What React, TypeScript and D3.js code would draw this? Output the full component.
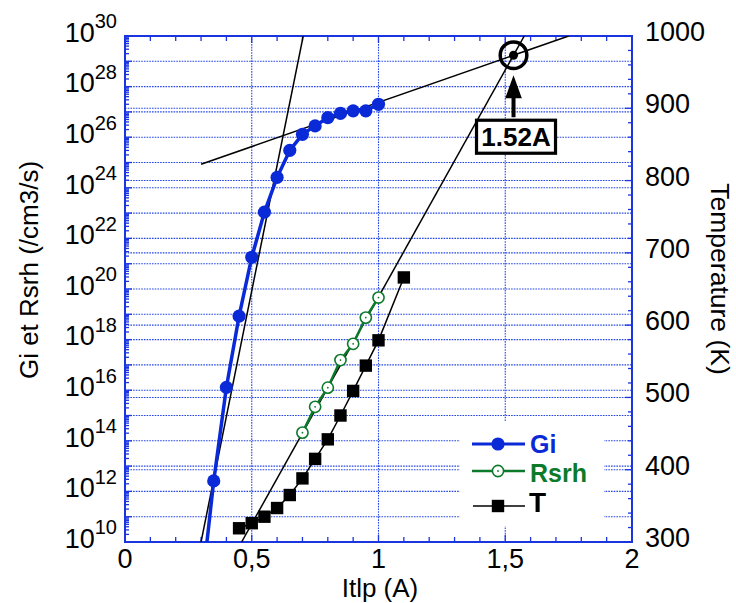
import React from "react";
import * as d3 from "d3";

// ---- data ----
const giX = [0.3, 0.35, 0.4, 0.45, 0.5, 0.55, 0.6, 0.65, 0.7, 0.75, 0.8, 0.85, 0.9, 0.95, 1.0];
const giY = [8e7, 2.6e12, 1.3e16, 8.5e18, 1.8e21, 1.1e23, 2.6e24, 3.0e25, 1.3e26, 2.8e26, 5.9e26, 8.7e26, 1.1e27, 1.1e27, 2.0e27];

const rsrhX = [0.7, 0.75, 0.8, 0.85, 0.9, 0.95, 1.0];
const rsrhY = [2.1e14, 2.2e15, 1.26e16, 1.55e17, 6.8e17, 7.4e18, 4.6e19];

const tX = [0.45, 0.5, 0.55, 0.6, 0.65, 0.7, 0.75, 0.8, 0.85, 0.9, 0.95, 1.0, 1.1];
const tY = [319, 326, 335, 347, 365, 388, 415, 442, 475, 509, 544, 579, 666];

// fit lines (endpoints)
const fitSteepX = [0.3, 0.703];
const fitSteepY = [1e10, 1e30];
const fitFlatX = [0.3, 1.75];
const fitFlatY = [8.5e24, 1e30];
const fitTX = [0.46, 1.575];
const fitTY = [300, 1000];

const xTicks = [0, 0.5, 1, 1.5, 2];
const xTickLabels = ["0", "0,5", "1", "1,5", "2"];
const leftExps = [10, 12, 14, 16, 18, 20, 22, 24, 26, 28, 30];
const rightTicks = [300, 400, 500, 600, 700, 800, 900, 1000];

const annotationLabel = "1.52A";

// ---- layout ----
const W = 736, H = 603;
const L = 125, R = 632, T = 36, B = 542;
const FONT = "'Liberation Sans', Arial, Helvetica, sans-serif";
const AXIS_BLUE = "#1a35e0";
const GRID_BLUE = "#2646e6";
const GI_BLUE = "#0a2ad8";
const GREEN = "#0c7a2a";

export default function App() {
  const x = d3.scaleLinear().domain([0, 2]).range([L, R]);
  const yL = d3.scaleLog().domain([1e10, 1e30]).range([B, T]);
  const yR = d3.scaleLinear().domain([300, 1000]).range([B, T]);

  const giLine = d3.line<number>().x((_, i) => x(giX[i])).y((d) => yL(d));
  const rsLine = d3.line<number>().x((_, i) => x(rsrhX[i])).y((d) => yL(d));
  const tLine = d3.line<number>().x((_, i) => x(tX[i])).y((d) => yR(d));

  // intersection of flat Gi fit and T fit in pixel space
  const p1 = [x(fitFlatX[0]), yL(fitFlatY[0])], p2 = [x(fitFlatX[1]), yL(fitFlatY[1])];
  const q1 = [x(fitTX[0]), yR(fitTY[0])], q2 = [x(fitTX[1]), yR(fitTY[1])];
  const m1 = (p2[1] - p1[1]) / (p2[0] - p1[0]);
  const m2 = (q2[1] - q1[1]) / (q2[0] - q1[0]);
  const ix = (q1[1] - p1[1] + m1 * p1[0] - m2 * q1[0]) / (m1 - m2);
  const iy = p1[1] + m1 * (ix - p1[0]);

  // grid lines
  const decades = d3.range(11, 30);
  const minorLog: number[] = [];
  for (let e = 10; e < 30; e++) for (let k = 2; k <= 9; k++) minorLog.push(k * Math.pow(10, e));
  const xMinor = d3.range(0, 2.0001, 0.1);
  const rMinor = d3.range(300, 1000.1, 20);

  return (
    <svg width={W} height={H} style={{ position: "absolute", left: 0, top: 0, background: "#fff" }} fontFamily={FONT}>
      <defs>
        <clipPath id="plot">
          <rect x={L} y={T} width={R - L} height={B - T} />
        </clipPath>
      </defs>
      <rect x={0} y={0} width={W} height={H} fill="#fff" />

      {/* grid */}
      <g stroke={GRID_BLUE} strokeWidth={1.1} strokeDasharray="1.6,1.1" fill="none">
        {decades.map((e) => (
          <line key={"gl" + e} x1={L} x2={R} y1={yL(Math.pow(10, e))} y2={yL(Math.pow(10, e))} />
        ))}
        {rightTicks.slice(1, -1).map((t) => (
          <line key={"gr" + t} x1={L} x2={R} y1={yR(t)} y2={yR(t)} />
        ))}
        {[0.5, 1, 1.5].map((v) => (
          <line key={"gx" + v} x1={x(v)} x2={x(v)} y1={T} y2={B} />
        ))}
      </g>

      {/* legend background */}
      <rect x={460} y={421} width={144} height={105} fill="#fff" />

      {/* ticks */}
      <g stroke={AXIS_BLUE} strokeWidth={1.3}>
        {xMinor.map((v, i) => {
          const len = Math.abs(v * 2 - Math.round(v * 2)) < 1e-6 ? 7 : 5;
          return (
            <g key={"xt" + i}>
              <line x1={x(v)} x2={x(v)} y1={B} y2={B - len} />
              <line x1={x(v)} x2={x(v)} y1={T} y2={T + len} />
            </g>
          );
        })}
        {d3.range(10, 31).map((e) => (
          <line key={"lt" + e} x1={L} x2={L + 7} y1={yL(Math.pow(10, e))} y2={yL(Math.pow(10, e))} />
        ))}
        {minorLog.map((v, i) => (
          <line key={"lm" + i} x1={L} x2={L + 4} y1={yL(v)} y2={yL(v)} />
        ))}
        {rMinor.map((v, i) => {
          const len = Math.abs(v % 100) < 1e-6 ? 7 : 4;
          return <line key={"rt" + i} x1={R} x2={R - len} y1={yR(v)} y2={yR(v)} />;
        })}
      </g>

      {/* frame */}
      <rect x={L} y={T} width={R - L} height={B - T} fill="none" stroke={AXIS_BLUE} strokeWidth={2} />

      {/* data */}
      <g clipPath="url(#plot)">
        {/* fits */}
        <g stroke="#000" strokeWidth={1.5} fill="none">
          <line x1={x(fitSteepX[0])} y1={yL(fitSteepY[0])} x2={x(fitSteepX[1])} y2={yL(fitSteepY[1])} />
          <line x1={x(fitFlatX[0])} y1={yL(fitFlatY[0])} x2={x(fitFlatX[1])} y2={yL(fitFlatY[1])} />
          <line x1={x(fitTX[0])} y1={yR(fitTY[0])} x2={x(fitTX[1])} y2={yR(fitTY[1])} />
        </g>
        {/* T */}
        <path d={tLine(tY) || ""} fill="none" stroke="#000" strokeWidth={1.5} />
        {tY.map((v, i) => (
          <rect key={"ts" + i} x={x(tX[i]) - 6.2} y={yR(v) - 6.2} width={12.4} height={12.4} fill="#000" />
        ))}
        {/* Rsrh */}
        <path d={rsLine(rsrhY) || ""} fill="none" stroke={GREEN} strokeWidth={2.5} />
        {rsrhY.map((v, i) => (
          <g key={"rs" + i}>
            <circle cx={x(rsrhX[i])} cy={yL(v)} r={5.6} fill="#fff" stroke={GREEN} strokeWidth={1.6} />
            <circle cx={x(rsrhX[i])} cy={yL(v)} r={0.9} fill={GREEN} />
          </g>
        ))}
        {/* Gi */}
        <path d={giLine(giY) || ""} fill="none" stroke={GI_BLUE} strokeWidth={3.5} />
        {giY.map((v, i) => (
          <circle key={"gi" + i} cx={x(giX[i])} cy={yL(v)} r={6.6} fill={GI_BLUE} />
        ))}
      </g>

      {/* annotation */}
      <circle cx={ix} cy={iy} r={13.3} fill="none" stroke="#000" strokeWidth={3.5} />
      <circle cx={ix} cy={iy} r={4.5} fill="#000" />
      <line x1={ix} x2={ix} y1={iy + 62} y2={iy + 40} stroke="#000" strokeWidth={4} />
      <path d={`M${ix},${iy + 20} L${ix - 8.3},${iy + 43} L${ix + 8.3},${iy + 43} Z`} fill="#000" />
      <rect x={ix - 37} y={iy + 65} width={79} height={33} fill="#fff" stroke="#000" strokeWidth={3.2} />
      <text x={ix + 2.5} y={iy + 91} textAnchor="middle" fontSize={26} fontWeight="bold" fill="#000">
        {annotationLabel}
      </text>

      {/* x tick labels */}
      {xTicks.map((v, i) => (
        <text key={"xl" + i} x={x(v)} y={568} textAnchor="middle" fontSize={27} fill="#000">
          {xTickLabels[i]}
        </text>
      ))}
      {/* left tick labels */}
      {leftExps.map((e) => (
        <text key={"ll" + e} x={117} y={yL(Math.pow(10, e)) + 5.7} textAnchor="end" fontSize={27} fill="#000">
          10
          <tspan fontSize={20} dy={-13.4}>
            {e}
          </tspan>
        </text>
      ))}
      {/* right tick labels */}
      {rightTicks.map((v) => (
        <text key={"rl" + v} x={645} y={yR(v) + 5} textAnchor="start" fontSize={27} fill="#000">
          {v}
        </text>
      ))}

      {/* axis titles */}
      <text x={380} y={597} textAnchor="middle" fontSize={26} fill="#000">
        Itlp (A)
      </text>
      <text transform="translate(38,270) rotate(-90)" textAnchor="middle" fontSize={26} fill="#000">
        Gi et Rsrh (/cm3/s)
      </text>
      <text transform="translate(711,279) rotate(90)" textAnchor="middle" fontSize={26.5} fill="#000">
        Temperature (K)
      </text>

      {/* legend */}
      <g>
        <line x1={472} x2={525} y1={444} y2={444} stroke={GI_BLUE} strokeWidth={3} />
        <circle cx={498} cy={444} r={6.6} fill={GI_BLUE} />
        <text x={530} y={453} fontSize={25} fontWeight="bold" fill={GI_BLUE}>Gi</text>

        <line x1={472} x2={525} y1={471} y2={471} stroke={GREEN} strokeWidth={2.5} />
        <circle cx={498} cy={471} r={5.6} fill="#fff" stroke={GREEN} strokeWidth={1.6} />
        <circle cx={498} cy={471} r={0.9} fill={GREEN} />
        <text x={530} y={481.5} fontSize={25} fontWeight="bold" fill={GREEN}>Rsrh</text>

        <line x1={473} x2={525} y1={506} y2={506} stroke="#000" strokeWidth={1.5} />
        <rect x={491.8} y={499.8} width={12.4} height={12.4} fill="#000" />
        <text x={529} y={511.7} fontSize={28} fontWeight="bold" fill="#000">T</text>
      </g>
    </svg>
  );
}
